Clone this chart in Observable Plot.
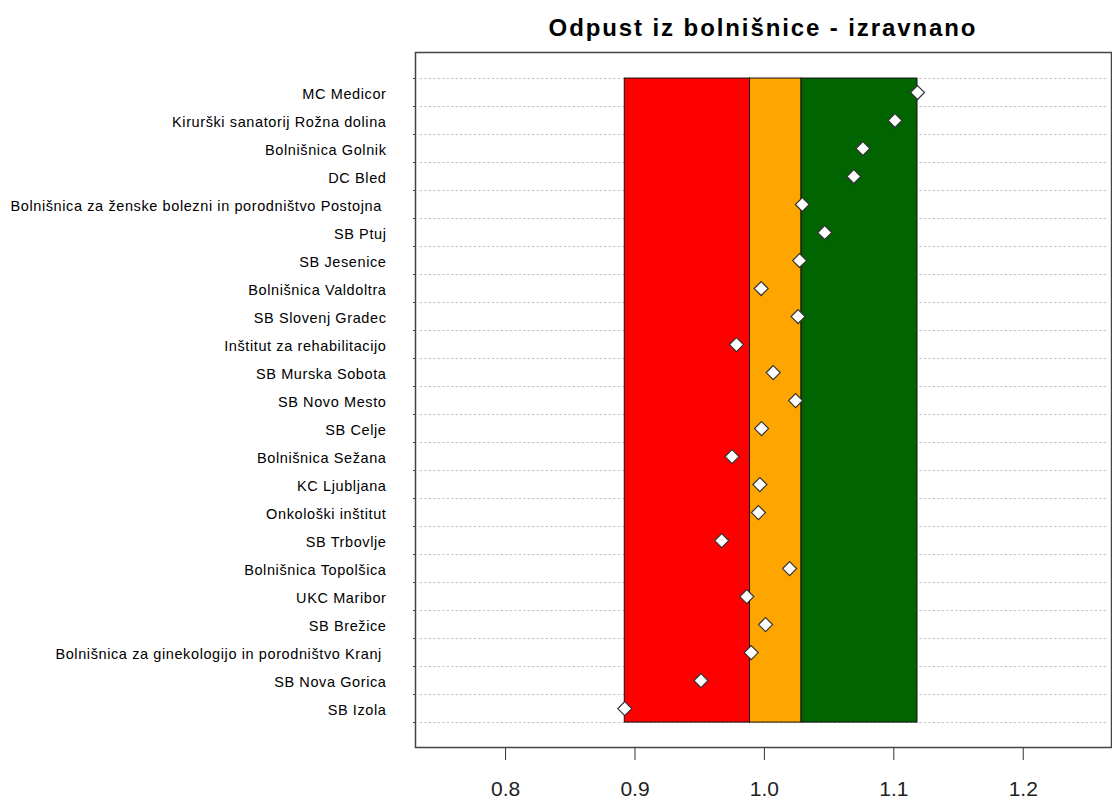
<!DOCTYPE html>
<html>
<head>
<meta charset="utf-8">
<script src="https://cdn.jsdelivr.net/npm/d3@7"></script>
<script src="https://cdn.jsdelivr.net/npm/@observablehq/plot@0.6"></script>
<style>
  html, body { margin: 0; padding: 0; background: #fff; }
  #wrap { position: relative; width: 1112px; height: 804px; }
  #title { position: absolute; left: 415px; width: 696px; top: 14px; text-align: center;
           font: bold 24px "Liberation Sans", Arial, sans-serif; letter-spacing: 1.9px; color: #000; }
  #chart { position: absolute; left: 0; top: 0; }
  #chart svg text { white-space: pre; }
  #chart svg g[aria-label="y-axis tick label"] text { letter-spacing: 0.6px; }
</style>
</head>
<body>
<div id="wrap">
  <div id="chart"></div>
  <div id="title">Odpust iz bolnišnice - izravnano</div>
</div>
<script>
const hospitals = [
  "MC Medicor",
  "Kirurški sanatorij Rožna dolina",
  "Bolnišnica Golnik",
  "DC Bled",
  "Bolnišnica za ženske bolezni in porodništvo Postojna ",
  "SB Ptuj",
  "SB Jesenice",
  "Bolnišnica Valdoltra",
  "SB Slovenj Gradec",
  "Inštitut za rehabilitacijo",
  "SB Murska Sobota",
  "SB Novo Mesto",
  "SB Celje",
  "Bolnišnica Sežana",
  "KC Ljubljana",
  "Onkološki inštitut",
  "SB Trbovlje",
  "Bolnišnica Topolšica",
  "UKC Maribor",
  "SB Brežice",
  "Bolnišnica za ginekologijo in porodništvo Kranj ",
  "SB Nova Gorica",
  "SB Izola"
];
const values = [
  1.1183, 1.1009, 1.0761, 1.0691, 1.0293, 1.0466, 1.0272, 0.9975, 1.0260, 0.9784,
  1.0068, 1.0241, 0.9978, 0.9750, 0.9965, 0.9954, 0.9670, 1.0195, 0.9864, 1.0009,
  0.9898, 0.9510, 0.8921
];
const bandFrom  = [0.8921, 0.9889, 1.0287];
const bandTo    = [0.9889, 1.0287, 1.1183];
const bandColor = ["#FF0000", "#FFA500", "#006400"];
const xTicks = [0.8, 0.9, 1.0, 1.1, 1.2];

const points = hospitals.map((name, i) => ({name, i, value: values[i]}));
const bands = bandFrom.map((f, k) => ({from: f, to: bandTo[k], color: bandColor[k]}));
const boundaries = d3.range(hospitals.length + 1).map(i => i - 0.5);
const rowIdx = d3.range(hospitals.length);

const font = '"Liberation Sans", Arial, sans-serif';

const chart = Plot.plot({
  width: 1112,
  height: 804,
  marginLeft: 415,
  marginRight: 1,
  marginTop: 52,
  marginBottom: 57,
  style: {fontFamily: font, background: "#fff", color: "#222"},
  x: {domain: [0.7304, 1.2682], label: null},
  y: {domain: [23.39, -1.43], label: null},
  marks: [
    Plot.ruleY(boundaries, {stroke: "#c4c4c4", strokeWidth: 1, strokeDasharray: "2.5,2", x1: 0.734, x2: 1.266}),
    Plot.rectX(bands, {x1: "from", x2: "to", y1: -0.5, y2: hospitals.length - 0.5,
      fill: d => d.color, stroke: "#111", strokeWidth: 1}),
    Plot.dot(points, {x: "value", y: "i", symbol: "diamond2", r: 6.3,
      fill: "#fff", stroke: "#333", strokeWidth: 1.2}),
    Plot.axisY({ticks: rowIdx, tickFormat: i => hospitals[i], tickSize: 0, tickPadding: 29,
      fontSize: 14.5, fill: "#000", dy: 2, label: null}),
    Plot.axisY({ticks: boundaries, tickFormat: () => "", tickSize: 2, stroke: "#444", label: null}),
    Plot.axisX({ticks: xTicks, tickFormat: d => d.toFixed(1), tickSize: 13, tickPadding: 21,
      fontSize: 21, stroke: "#333", fill: "#222", label: null}),
    Plot.frame({stroke: "#444", strokeWidth: 1.5})
  ]
});
document.getElementById("chart").appendChild(chart);
</script>
</body>
</html>
